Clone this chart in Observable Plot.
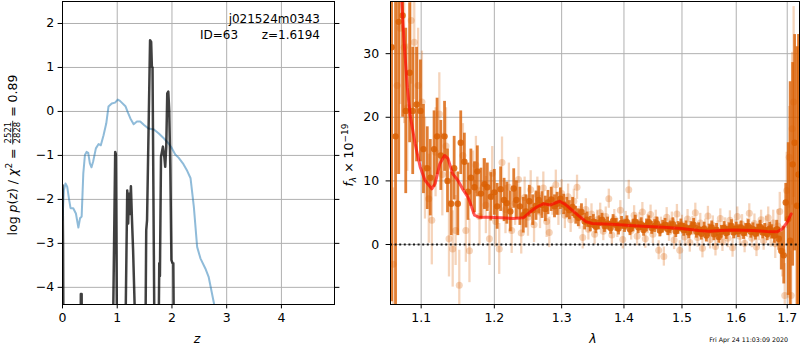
<!DOCTYPE html>
<html><head><meta charset="utf-8">
<script src="https://cdn.jsdelivr.net/npm/d3@7"></script>
<script src="https://cdn.jsdelivr.net/npm/@observablehq/plot@0.6"></script>
<style>
body{margin:0;background:#fff;}
#wrap{position:relative;width:800px;height:350px;overflow:hidden;background:#fff;}
#wrap > svg, #wrap > figure{position:absolute;top:0;margin:0;}
</style></head><body><div id="wrap"></div>
<script>
// ---------- data ----------
const objName = "j021524m0343";
const objId = "ID=63";
const objZ = "z=1.6194";
const stamp = "Fri Apr 24 11:03:09 2020";

const zTicks = [0, 1, 2, 3, 4];
const logpTicks = [-4, -3, -2, -1, 0, 1, 2];
const lamTicks = [1.1, 1.2, 1.3, 1.4, 1.5, 1.6, 1.7];
const fluxTicks = [0, 10, 20, 30];

// prior-like curve (blue): [z, log p]
const priorCurve = [
[0,-2.47],[0.025,-1.79],[0.055,-1.64],[0.086,-1.71],[0.12,-2.0],[0.147,-2.2],[0.196,-2.2],[0.245,-2.32],
[0.29,-2.64],[0.32,-2.43],[0.35,-2.39],[0.38,-1.41],[0.41,-0.99],[0.44,-0.92],[0.47,-0.94],[0.50,-1.18],
[0.53,-1.27],[0.56,-1.14],[0.61,-0.84],[0.66,-0.74],[0.70,-0.77],[0.75,-0.54],[0.80,-0.27],[0.84,0.11],
[0.90,0.18],[0.96,0.20],[1.01,0.27],[1.05,0.24],[1.15,0.12],[1.19,-0.01],[1.24,-0.16],[1.30,-0.29],
[1.36,-0.23],[1.42,-0.23],[1.49,-0.31],[1.57,-0.39],[1.67,-0.41],[1.76,-0.5],[1.85,-0.61],[1.94,-0.73],
[2.0,-0.84],[2.06,-0.98],[2.12,-1.05],[2.21,-1.2],[2.27,-1.33],[2.34,-1.52],[2.40,-2.17],[2.46,-3.08],
[2.52,-3.34],[2.61,-3.57],[2.67,-3.76],[2.77,-4.38],[2.85,-5.2]
];

// posterior (black): [z, log p]
const postCurve = [
[0,-1.68],[0.01,-3.0],[0.02,-6],[0.33,-6],[0.335,-4.15],[0.35,-4.15],[0.355,-6],
[0.91,-6],[0.93,-4.25],[0.963,-0.92],[0.975,-0.97],[1.0,-6],
[1.14,-6],[1.183,-1.8],[1.2,-2.55],[1.215,-1.87],[1.23,-2.33],[1.25,-1.7],[1.27,-2.48],[1.29,-3.16],[1.354,-6],
[1.51,-6],[1.53,-2.7],[1.545,-2.47],[1.6,1.62],[1.62,1.58],[1.633,1.02],[1.645,1.0],[1.685,-6],
[1.75,-6],[1.768,-3.45],[1.78,-3.74],[1.80,-1.03],[1.835,-0.8],[1.86,-1.03],[1.877,-1.26],[1.896,-0.8],
[1.914,0.41],[1.933,0.45],[1.95,0.03],[1.97,-1.26],[1.99,-3.38],[2.01,-3.45],[2.025,-3.45],[2.04,-6]
];

// spectrum, dark (main) points: [lambda, flux, err]
const darkPoints = [
[1.062,31,40],[1.067,17,30],[1.071,35,24],[1.076,36,16],[1.080,21,13],[1.085,27,11],[1.089,21,10],[1.094,22,9],
[1.099,21,8],[1.103,15,7],[1.108,12,6.5],[1.112,10.5,6],[1.117,15,6],[1.121,17,6],[1.126,14,5.5],[1.131,17,5.5],
[1.135,10,5],[1.140,6.4,5],[1.144,12,5],[1.149,6.4,5],[1.153,16,5],[1.158,13,4.5],[1.163,8.3,4.5],[1.167,10.5,4.5],
[1.172,9,4],[1.176,11.5,4],[1.181,8,4],[1.186,9.5,4],[1.190,9,3.8],[1.195,7.5,3.8],[1.200,8.2,3.6],[1.204,6,3.6],
[1.209,8.7,3.5],[1.214,7,3.4],[1.218,6.5,3.3],[1.223,5.2,3.2],[1.228,8.8,3.1],[1.232,7,3],[1.237,6,3],[1.242,4.6,2.8],
[1.246,5.2,2.6],[1.251,6.8,2.5],[1.256,5.4,2.4],[1.261,6.1,2.3],[1.265,7.0,2.2],[1.270,6.2,2.1],[1.275,5.6,2],[1.279,6.6,1.9],
[1.284,7.1,1.9],[1.289,6,1.8],[1.293,6.4,1.8],[1.298,7.2,1.7],[1.303,6.3,1.6],[1.308,5.8,1.6],[1.312,5.4,1.5],[1.317,5.9,1.5],
[1.322,4.6,1.4],[1.326,4.2,1.4],[1.331,5.1,1.3],[1.336,3.6,1.3],[1.340,3.9,1.2],[1.345,3.2,1.2],[1.350,3.6,1.1],[1.354,2.8,1.1],
[1.359,3.4,1.1],[1.364,3.9,1],[1.368,2.9,1],[1.373,3.3,1],[1.378,2.6,1],[1.382,3.7,1],[1.387,3.1,1],[1.391,2.5,1],
[1.396,3.4,1],[1.401,2.9,1],[1.405,3.5,1],[1.410,2.4,1],[1.415,3.0,1],[1.419,3.6,1],[1.424,2.7,1],[1.429,3.2,1],
[1.433,2.3,1],[1.438,3.0,1],[1.442,3.5,1],[1.447,2.6,1],[1.452,2.9,1],[1.456,3.3,1],[1.461,2.2,1],[1.466,2.8,1],
[1.470,3.1,1],[1.475,2.4,1],[1.479,2.7,1],[1.484,3.2,1],[1.489,2.1,1],[1.493,2.6,1],[1.498,3.0,1],[1.503,2.3,1],
[1.507,2.7,1],[1.512,1.9,1],[1.516,2.6,1],[1.521,3.1,1],[1.526,2.0,1],[1.530,2.4,1],[1.535,1.7,1],[1.540,2.5,1],
[1.544,1.4,1],[1.549,2.2,1],[1.554,2.7,1],[1.558,1.6,1],[1.563,2.3,1],[1.567,1.2,1],[1.572,2.0,1],[1.577,2.6,1],
[1.581,1.8,1],[1.586,2.4,1],[1.591,2.9,1],[1.595,1.9,1],[1.600,2.5,1],[1.604,2.1,1],[1.609,2.7,1],[1.614,1.8,1],
[1.618,2.3,1],[1.623,2.9,1],[1.628,2.0,1],[1.632,2.4,1],[1.637,1.7,1],[1.641,2.2,1],[1.646,2.8,1],[1.651,1.9,1],
[1.655,2.3,1],[1.660,1.6,1],[1.665,2.5,1],[1.669,2.0,1.1],[1.674,1.4,1.2],[1.679,2.4,1.4],[1.683,0.9,1.8],[1.688,-1.0,3],
[1.693,-1.7,4.5],[1.697,6.6,3],[1.702,4,12],[1.706,0.6,25],[1.711,12.6,16],[1.715,16,17],[1.720,6.1,25],[1.723,11,22]
];

// spectrum, light (secondary) points: [lambda, flux, err]
const lightPoints = [
[1.064,-3.1,12],[1.069,25,14],[1.073,34,12],[1.078,31,12],[1.082,21.5,10],[1.087,35.2,10],[1.091,31.8,9],[1.096,25,9],
[1.101,22.4,8],[1.105,12,8],[1.110,7.2,7],[1.114,3.8,7],[1.119,14.5,7],[1.124,20.5,6.5],[1.128,11,6.5],[1.133,15.5,6],
[1.137,0.9,6],[1.142,-0.7,6],[1.146,2.2,5.5],[1.151,-6.4,5.5],[1.156,14,5],[1.160,2.2,5],[1.165,-1.0,5],[1.170,9.7,5],
[1.174,12.5,4.5],[1.179,4.4,4.5],[1.184,9.0,4.5],[1.188,6.2,4.5],[1.193,0.9,4.2],[1.197,11.2,4.2],[1.202,3.6,4],[1.207,-0.7,4],
[1.211,12.9,4],[1.216,5.5,3.8],[1.221,9.0,3.8],[1.225,2.2,3.6],[1.230,6.5,3.5],[1.235,10.2,3.5],[1.239,1.8,3.3],[1.244,7.4,3.2],
[1.249,4.3,3],[1.253,8.6,3],[1.258,3.1,2.8],[1.263,7.8,2.8],[1.267,5.1,2.6],[1.272,8.9,2.5],[1.277,3.6,2.5],[1.281,1.9,2.4],
[1.286,6.9,2.3],[1.291,9.4,2.3],[1.295,5.2,2.2],[1.300,8.0,2.2],[1.305,4.6,2.1],[1.310,7.5,2],[1.314,3.9,2],[1.319,6.8,1.9],
[1.324,9.0,1.9],[1.328,4.2,1.8],[1.333,1.1,1.8],[1.338,5.5,1.7],[1.342,2.4,1.7],[1.347,4.8,1.6],[1.352,1.6,1.6],[1.356,3.9,1.5],
[1.361,5.0,1.5],[1.366,2.1,1.5],[1.370,4.4,1.5],[1.375,7.2,1.5],[1.380,1.5,1.5],[1.384,4.0,1.5],[1.389,2.6,1.5],[1.394,5.4,1.5],
[1.398,0.8,1.5],[1.403,3.7,1.5],[1.408,8.6,1.5],[1.412,2.2,1.5],[1.417,4.6,1.5],[1.422,1.3,1.5],[1.426,3.5,1.5],[1.431,5.1,1.5],
[1.436,0.9,1.5],[1.440,3.2,1.5],[1.445,4.7,1.5],[1.449,1.6,1.5],[1.454,3.9,1.5],[1.459,-0.9,1.5],[1.463,2.8,1.5],[1.468,-1.9,1.5],
[1.473,4.3,1.5],[1.477,2.0,1.5],[1.482,3.6,1.5],[1.486,0.7,1.5],[1.491,4.8,1.5],[1.496,-0.9,1.5],[1.500,3.1,1.5],[1.505,1.2,1.5],
[1.510,4.0,1.5],[1.514,0.3,1.5],[1.519,2.9,1.5],[1.524,5.0,1.5],[1.528,1.1,1.5],[1.533,3.4,1.5],[1.537,-0.6,1.5],[1.542,2.5,1.5],
[1.547,4.5,1.5],[1.551,0.8,1.5],[1.556,3.0,1.5],[1.561,-0.3,1.5],[1.565,2.2,1.5],[1.570,4.1,1.5],[1.574,0.4,1.5],[1.579,2.7,1.5],
[1.584,1.0,1.5],[1.588,3.8,1.5],[1.593,-0.5,1.5],[1.598,2.4,1.5],[1.602,4.4,1.5],[1.607,1.3,1.5],[1.611,3.2,1.5],[1.616,0.2,1.5],
[1.621,2.6,1.5],[1.625,4.9,1.5],[1.630,1.0,1.5],[1.635,3.3,1.5],[1.639,-0.4,1.5],[1.644,2.1,1.5],[1.648,3.9,1.5],[1.653,0.6,1.5],
[1.658,2.8,1.6],[1.662,4.2,1.7],[1.667,1.4,1.8],[1.672,3.4,2],[1.676,0.1,2.3],[1.681,2.9,2.6],[1.685,5.2,3],[1.690,-1.1,4],
[1.695,-8,5],[1.699,8.5,6],[1.704,13.7,8],[1.708,-8,7],[1.710,18.2,12],[1.713,22.4,15]
];

// model (red): [lambda, flux]
const modelCurve = [
[1.0745,39],[1.078,31.6],[1.082,24.7],[1.0857,20.3],[1.092,15.9],[1.0987,12.2],[1.105,10.1],[1.114,8.75],
[1.1185,9.6],[1.1247,12.7],[1.131,14.0],[1.1357,13.5],[1.142,11.1],[1.149,10.1],[1.1555,8.75],[1.162,7.6],
[1.165,6.9],[1.172,4.6],[1.178,4.3],[1.189,4.3],[1.21,4.2],[1.227,4.1],[1.242,4.2],[1.252,5.1],[1.262,5.9],
[1.272,6.4],[1.282,6.2],[1.297,6.8],[1.307,6.2],[1.322,4.9],[1.338,3.6],[1.348,3.3],[1.381,3.2],[1.41,3.0],
[1.44,2.85],[1.468,2.7],[1.499,2.5],[1.53,2.2],[1.549,2.1],[1.57,2.2],[1.594,2.3],[1.633,2.2],[1.66,2.05],
[1.68,2.0],[1.69,2.45],[1.70,3.5],[1.708,4.8]
];

// ---------- rendering ----------
const FONT = '"DejaVu Sans", sans-serif';
const ORANGE = "#d95f02";
const GRID = "#b0b0b0";
const minus = d => d < 0 ? "\u2212" + Math.abs(d) : String(d);
const baseStyle = {fontFamily: FONT, fontSize: "12.5px", color: "black", background: "white", overflow: "visible"};
const wrap = document.getElementById("wrap");

const prior = priorCurve.map(([z, v]) => ({z, v}));
const post = postCurve.map(([z, v]) => ({z, v}));

const left = Plot.plot({
  width: 340, height: 350, marginLeft: 62, marginRight: 6, marginTop: 1, marginBottom: 46,
  style: baseStyle,
  x: {domain: [0, 4.97]},
  y: {domain: [-4.39, 2.5]},
  marks: [
    Plot.gridX(zTicks, {stroke: GRID, strokeOpacity: 1, strokeWidth: 1}),
    Plot.gridY(logpTicks, {stroke: GRID, strokeOpacity: 1, strokeWidth: 1}),
    Plot.line(prior, {x: "z", y: "v", stroke: "#1f77b4", strokeOpacity: 0.5, strokeWidth: 2, clip: true}),
    Plot.line(post, {x: "z", y: "v", stroke: "black", strokeOpacity: 0.75, strokeWidth: 2.5, clip: true}),
    Plot.frame({stroke: "black", strokeWidth: 1}),
    Plot.axisX(zTicks, {tickSize: 4.4, tickPadding: 4, label: null, tickFormat: minus}),
    Plot.axisY(logpTicks, {tickSize: 4.4, tickPadding: 4, label: null, tickFormat: minus}),
    Plot.axisY(logpTicks, {anchor: "right", tickSize: 4.4, label: null, tickFormat: () => ""})
  ]
});
left.style.left = "0px";
wrap.appendChild(left);

const dark = darkPoints.map(([lam, f, e]) => ({lam, f, lo: f - e, hi: f + e}));
const light = lightPoints.map(([lam, f, e]) => ({lam, f, lo: f - e, hi: f + e}));
const model = modelCurve.map(([lam, f]) => ({lam, f}));

const right = Plot.plot({
  width: 460, height: 350, marginLeft: 50, marginRight: 1, marginTop: 1, marginBottom: 46,
  style: baseStyle,
  x: {type: "log", domain: [1.0606, 1.725]},
  y: {domain: [-9.43, 38.2]},
  marks: [
    Plot.gridX(lamTicks, {stroke: GRID, strokeOpacity: 1, strokeWidth: 1}),
    Plot.gridY(fluxTicks, {stroke: GRID, strokeOpacity: 1, strokeWidth: 1}),
    Plot.ruleX(light, {x: "lam", y1: "lo", y2: "hi", stroke: ORANGE, strokeOpacity: 0.27, strokeWidth: 2.3, clip: true}),
    Plot.dot(light, {x: "lam", y: "f", r: 3.5, fill: ORANGE, fillOpacity: 0.27, stroke: "none", clip: true}),
    Plot.ruleX(dark, {x: "lam", y1: "lo", y2: "hi", stroke: ORANGE, strokeOpacity: 0.8, strokeWidth: 2.8, clip: true}),
    Plot.dot(dark, {x: "lam", y: "f", r: 3.2, fill: ORANGE, fillOpacity: 0.85, stroke: "none", clip: true}),
    Plot.ruleY([0], {stroke: "black", strokeOpacity: 0.85, strokeDasharray: "2,2.6", strokeWidth: 1.8}),
    Plot.line(model, {x: "lam", y: "f", stroke: "red", strokeOpacity: 0.65, strokeWidth: 3, clip: true}),
    Plot.frame({stroke: "black", strokeWidth: 1}),
    Plot.axisX(lamTicks, {tickSize: 4.4, tickPadding: 4, label: null, tickFormat: d => d.toFixed(1)}),
    Plot.axisY(fluxTicks, {tickSize: 4.4, tickPadding: 7, label: null, tickFormat: minus})
  ]
});
right.style.left = "340px";
wrap.appendChild(right);

// ---------- text overlay ----------
const ov = d3.select(wrap).append("svg")
  .attr("width", 800).attr("height", 350)
  .style("position", "absolute").style("left", "0px").style("top", "0px")
  .style("font-family", FONT).style("pointer-events", "none").style("white-space", "pre");

ov.append("text").attr("x", 320).attr("y", 23).attr("text-anchor", "end").attr("font-size", 12).text(objName);
ov.append("text").attr("x", 200).attr("y", 39).attr("font-size", 12).text(objId);
ov.append("text").attr("x", 320).attr("y", 39).attr("text-anchor", "end").attr("font-size", 12).text(objZ);

ov.append("text").attr("x", 197).attr("y", 343).attr("text-anchor", "middle").attr("font-size", 12.5).attr("font-style", "italic").text("z");
ov.append("text").attr("x", 593).attr("y", 343).attr("text-anchor", "middle").attr("font-size", 12.5).attr("font-style", "italic").text("λ");
ov.append("text").attr("x", 788).attr("y", 342).attr("text-anchor", "end").attr("font-size", 6.3).attr("fill", "black").text(stamp);

// left y label: log p(z) / χ² = 2521/2828 = 0.89
{
  const g = ov.append("g");
  const t1 = g.append("text").attr("font-size", 12.5);
  t1.append("tspan").text("log\u00a0");
  t1.append("tspan").attr("font-style", "italic").text("p");
  t1.append("tspan").text("(");
  t1.append("tspan").attr("font-style", "italic").text("z");
  t1.append("tspan").text(")\u00a0/\u00a0");
  t1.append("tspan").attr("font-style", "italic").text("χ");
  t1.append("tspan").attr("font-size", 9).attr("dy", -5).text("2");
  t1.append("tspan").attr("dy", 5).text("\u00a0=\u00a0");
  const w1 = t1.node().getComputedTextLength();
  const num = g.append("text").attr("font-size", 8.5).attr("y", -6).attr("text-anchor", "middle").text("2521");
  const den = g.append("text").attr("font-size", 8.5).attr("y", 3).attr("text-anchor", "middle").text("2828");
  const fw = Math.max(num.node().getComputedTextLength(), den.node().getComputedTextLength()) + 2;
  num.attr("x", w1 + fw / 2);
  den.attr("x", w1 + fw / 2);
  g.append("line").attr("x1", w1).attr("x2", w1 + fw).attr("y1", -4.3).attr("y2", -4.3).attr("stroke", "black").attr("stroke-width", 0.8);
  const t3 = g.append("text").attr("font-size", 12.5).attr("x", w1 + fw).text("\u00a0=\u00a00.89");
  const W = w1 + fw + t3.node().getComputedTextLength();
  g.attr("transform", `translate(17,${155 + W / 2}) rotate(-90)`);
}
// right y label: f_λ × 10^−19
{
  const g = ov.append("g");
  const t = g.append("text").attr("font-size", 12.5);
  t.append("tspan").attr("font-style", "italic").text("f");
  t.append("tspan").attr("font-size", 9).attr("font-style", "italic").attr("dy", 3).text("λ");
  t.append("tspan").attr("dy", -3).text("\u00a0×\u00a010");
  t.append("tspan").attr("font-size", 9).attr("dy", -5).text("\u221219");
  const W = t.node().getComputedTextLength();
  g.attr("transform", `translate(353,${155 + W / 2}) rotate(-90)`);
}
</script></body></html>
